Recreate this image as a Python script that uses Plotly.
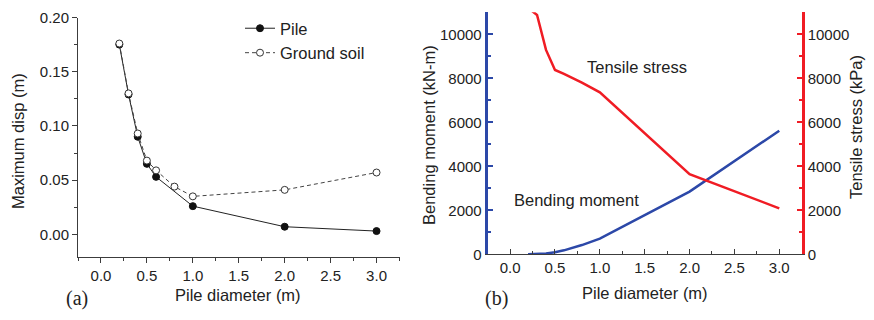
import plotly.graph_objects as go

# ---------------- data ----------------
pile_d = [0.2, 0.3, 0.4, 0.5, 0.6, 1.0, 2.0, 3.0]
pile_disp = [0.175, 0.129, 0.090, 0.065, 0.053, 0.026, 0.007, 0.003]

soil_d = [0.2, 0.3, 0.4, 0.5, 0.6, 0.8, 1.0, 2.0, 3.0]
soil_disp = [0.176, 0.130, 0.093, 0.068, 0.059, 0.044, 0.035, 0.041, 0.057]

b_d = [0.2, 0.3, 0.4, 0.5, 0.6, 0.8, 1.0, 2.0, 3.0]
bending = [0, 10, 40, 90, 180, 420, 710, 2850, 5620]
tensile = [11200, 10880, 9290, 8380, 8200, 7800, 7360, 3640, 2090]

x_ticks = [0.0, 0.5, 1.0, 1.5, 2.0, 2.5, 3.0]
disp_ticks = [0.00, 0.05, 0.10, 0.15, 0.20]
force_ticks = [0, 2000, 4000, 6000, 8000, 10000]

# page body has an 8px margin: size the figure so it fits the 874x320 window
OFF = 8
W, H = 874 - 2 * OFF, 320 - 2 * OFF
BLUE = "rgb(44,72,168)"
RED = "rgb(240,28,36)"
AX = "rgb(60,60,60)"

def px(x):
    return (x - OFF) / W

def py(y):
    return 1 - (y - OFF) / H

fig = go.Figure()

# ---------- panel (a) ----------
fig.add_trace(go.Scatter(
    x=pile_d, y=pile_disp, name="Pile", mode="lines+markers",
    line=dict(color="#222", width=1),
    marker=dict(symbol="circle", size=7, color="#111", line=dict(color="#111", width=1)),
    xaxis="x", yaxis="y"))
fig.add_trace(go.Scatter(
    x=soil_d, y=soil_disp, name="Ground soil", mode="lines+markers",
    line=dict(color="#444", width=1, dash="4px,3px"),
    marker=dict(symbol="circle", size=7, color="white", line=dict(color="#333", width=1)),
    xaxis="x", yaxis="y"))

# ---------- panel (b) ----------
fig.add_trace(go.Scatter(
    x=b_d, y=bending, mode="lines", showlegend=False,
    line=dict(color=BLUE, width=2.5), xaxis="x2", yaxis="y2"))
fig.add_trace(go.Scatter(
    x=b_d, y=tensile, mode="lines", showlegend=False,
    line=dict(color=RED, width=2.5), xaxis="x2", yaxis="y3"))

tickfont = dict(family="Liberation Sans, Arial", size=15, color="#222")

xa_common = dict(
    range=[-0.25, 3.25], tickvals=x_ticks, tickformat=".1f",
    showgrid=False, zeroline=False, showline=True,
    tickfont=tickfont, ticklen=5, tickwidth=1,
)

fig.update_layout(
    width=W, height=H, autosize=False,
    margin=dict(l=0, r=0, t=0, b=0, autoexpand=False),
    paper_bgcolor="white", plot_bgcolor="white",
    showlegend=True,
    legend=dict(x=px(240), y=py(11), xanchor="left", yanchor="top",
                font=dict(family="Liberation Sans, Arial", size=16.5, color="#222"),
                bgcolor="rgba(0,0,0,0)", itemwidth=30, tracegroupgap=0),
    xaxis=dict(**xa_common, domain=[px(78), px(399.5)], anchor="y",
               linecolor=AX, linewidth=1, ticks="outside", tickcolor=AX,
               minor=dict(dtick=0.25, tick0=0, ticklen=3, ticks="outside", tickcolor=AX)),
    yaxis=dict(range=[-0.0212, 0.2], tickvals=disp_ticks, tickformat=".2f",
               domain=[py(257.3), py(17.5)], anchor="x",
               showgrid=False, zeroline=False, showline=True,
               linecolor=AX, linewidth=1, ticks="outside", ticklen=5, tickcolor=AX,
               tickfont=tickfont,
               minor=dict(dtick=0.025, tick0=0, ticklen=3, ticks="outside", tickcolor=AX)),
    xaxis2=dict(**xa_common, domain=[px(487.7), px(801.7)], anchor="y2",
                linecolor=AX, linewidth=1, ticks="inside", tickcolor=AX,
                minor=dict(dtick=0.25, tick0=0, ticklen=3, ticks="inside", tickcolor=AX)),
    yaxis2=dict(range=[0, 11000], tickvals=force_ticks, tickformat="d",
                domain=[py(254.3), py(12.3)], anchor="x2", side="left",
                showgrid=False, zeroline=False, showline=True,
                linecolor=BLUE, linewidth=3, ticks="inside", ticklen=5, tickwidth=2,
                tickcolor=BLUE, tickfont=tickfont,
                minor=dict(dtick=1000, tick0=0, ticklen=3, ticks="inside",
                           tickcolor=BLUE, tickwidth=2)),
    yaxis3=dict(range=[0, 11000], tickvals=force_ticks, tickformat="d",
                overlaying="y2", anchor="x2", side="right",
                showgrid=False, zeroline=False, showline=True,
                linecolor=RED, linewidth=3, ticks="inside", ticklen=5, tickwidth=2,
                tickcolor=RED, tickfont=tickfont,
                minor=dict(dtick=1000, tick0=0, ticklen=3, ticks="inside",
                           tickcolor=RED, tickwidth=2)),
)

lab = dict(family="Liberation Sans, Arial", size=16.5, color="#222")
serif = dict(family="Liberation Serif, Times New Roman", size=20, color="#222")

def ann(text, x, y, font=lab, angle=0):
    fig.add_annotation(text=text, x=px(x), y=py(y), xref="paper", yref="paper",
                       xanchor="center", yanchor="middle", showarrow=False,
                       font=font, textangle=angle)

ann("Maximum disp (m)", 18, 141, angle=-90)
ann("Pile diameter (m)", 238, 295)
ann("(a)", 77, 298, font=serif)
ann("Bending moment (kN-m)", 429, 135, angle=-90)
ann("Tensile stress (kPa)", 856, 127, angle=-90)
ann("Pile diameter (m)", 645, 293)
ann("(b)", 497, 298, font=serif)
ann("Tensile stress", 637, 67)
ann("Bending moment", 576, 200)

fig.write_html("out.html")
